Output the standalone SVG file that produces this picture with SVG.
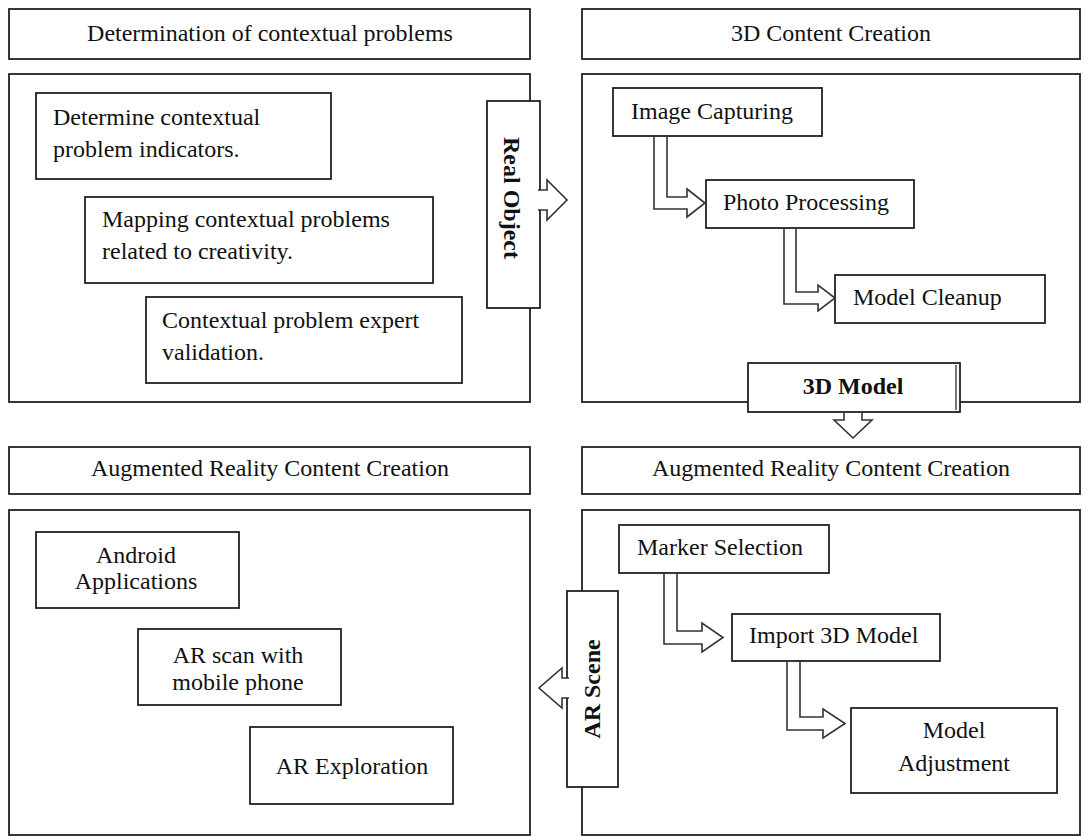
<svg xmlns="http://www.w3.org/2000/svg" width="1091" height="836" viewBox="0 0 1091 836">
<style>
.box{fill:#fff;stroke:#222;stroke-width:1.8}
.arr{fill:#fff;stroke:#333;stroke-width:1.6;stroke-linejoin:miter}
.t{font-family:"Liberation Serif","Times New Roman",serif;font-size:24px;fill:#111}
.c{text-anchor:middle}
.b{font-weight:bold}
</style>
<rect width="1091" height="836" fill="#fff"/>
<g id="hdr-tl"><rect class="box" x="9" y="9" width="521" height="50"/><text class="t c" x="270" y="41">Determination of contextual problems</text></g>
<g id="hdr-tr"><rect class="box" x="582" y="9" width="498" height="50"/><text class="t c" x="831" y="41">3D Content Creation</text></g>
<g id="panel-tl"><rect class="box" x="9" y="74" width="521" height="328"/></g>
<g id="panel-tr"><rect class="box" x="582" y="74" width="498" height="328"/></g>
<g id="hdr-bl"><rect class="box" x="9" y="447" width="521" height="47"/><text class="t c" x="270" y="476">Augmented Reality Content Creation</text></g>
<g id="hdr-br"><rect class="box" x="582" y="447" width="498" height="47"/><text class="t c" x="831" y="476">Augmented Reality Content Creation</text></g>
<g id="panel-bl"><rect class="box" x="9" y="510" width="521" height="325"/></g>
<g id="panel-br"><rect class="box" x="582" y="510" width="498" height="325"/></g>

<g id="n-determine"><rect class="box" x="36" y="93" width="295" height="86"/><text class="t" x="53" y="125">Determine contextual</text><text class="t" x="53" y="157">problem indicators.</text></g>
<g id="n-mapping"><rect class="box" x="85" y="197" width="348" height="86"/><text class="t" x="102" y="227">Mapping contextual problems</text><text class="t" x="102" y="259">related to creativity.</text></g>
<g id="n-validation"><rect class="box" x="146" y="297" width="316" height="86"/><text class="t" x="162" y="328">Contextual problem expert</text><text class="t" x="162" y="360">validation.</text></g>

<g id="n-image"><rect class="box" x="613" y="88" width="209" height="48"/><text class="t" x="631" y="119">Image Capturing</text></g>
<g id="n-photo"><rect class="box" x="706" y="180" width="208" height="48"/><text class="t" x="723" y="210">Photo Processing</text></g>
<g id="n-cleanup"><rect class="box" x="835" y="275" width="210" height="48"/><text class="t" x="853" y="305">Model Cleanup</text></g>

<g id="n-android"><rect class="box" x="36" y="532" width="203" height="76"/><text class="t c" x="136" y="563">Android</text><text class="t c" x="136" y="589">Applications</text></g>
<g id="n-arscan"><rect class="box" x="138" y="629" width="203" height="76"/><text class="t c" x="238" y="663">AR scan with</text><text class="t c" x="238" y="690">mobile phone</text></g>
<g id="n-arexplore"><rect class="box" x="250" y="727" width="203" height="77"/><text class="t c" x="352" y="774">AR Exploration</text></g>

<g id="n-marker"><rect class="box" x="619" y="525" width="210" height="48"/><text class="t" x="637" y="555">Marker Selection</text></g>
<g id="n-import"><rect class="box" x="732" y="614" width="208" height="47"/><text class="t" x="749" y="643">Import 3D Model</text></g>
<g id="n-adjust"><rect class="box" x="851" y="708" width="206" height="85"/><text class="t c" x="954" y="738">Model</text><text class="t c" x="954" y="771">Adjustment</text></g>

<g id="n-realobject"><rect class="box" x="487" y="101" width="53" height="207"/><text class="t c b" transform="translate(504,198) rotate(90)">Real Object</text></g>
<g id="n-arscene"><rect class="box" x="567" y="591" width="51" height="196"/><text class="t c b" transform="translate(600,689) rotate(-90)">AR Scene</text></g>
<g id="n-3dmodel"><rect class="box" x="748" y="363" width="212" height="49" stroke-width="2.4"/><line x1="956" y1="365" x2="956" y2="410" stroke="#777" stroke-width="2"/><text class="t c b" x="853" y="394">3D Model</text></g>

<g id="connectors">
<path class="arr" d="M654,137 V209 H687 V217 L705,203 L687,189 V197 H667 V137"/>
<path class="arr" d="M784,229 V304 H818 V311 L835,298 L818,285 V292 H796 V229"/>
<path class="arr" d="M664,574 V644 H702 V652 L723,637.5 L702,623 V631 H677 V574"/>
<path class="arr" d="M787,662 V730 H823 V738 L845,723.5 L823,709 V717 H800 V662"/>
<path class="arr" d="M844,413 V420 H834 L853,438 L872,420 H862 V413"/>
<path class="arr" d="M538,190 H547 V180 L567,200 L547,220 V210 H538"/>
<path class="arr" d="M569,678 H562 V668 L539,688 L562,708 V698 H569"/>
</g>
</svg>
